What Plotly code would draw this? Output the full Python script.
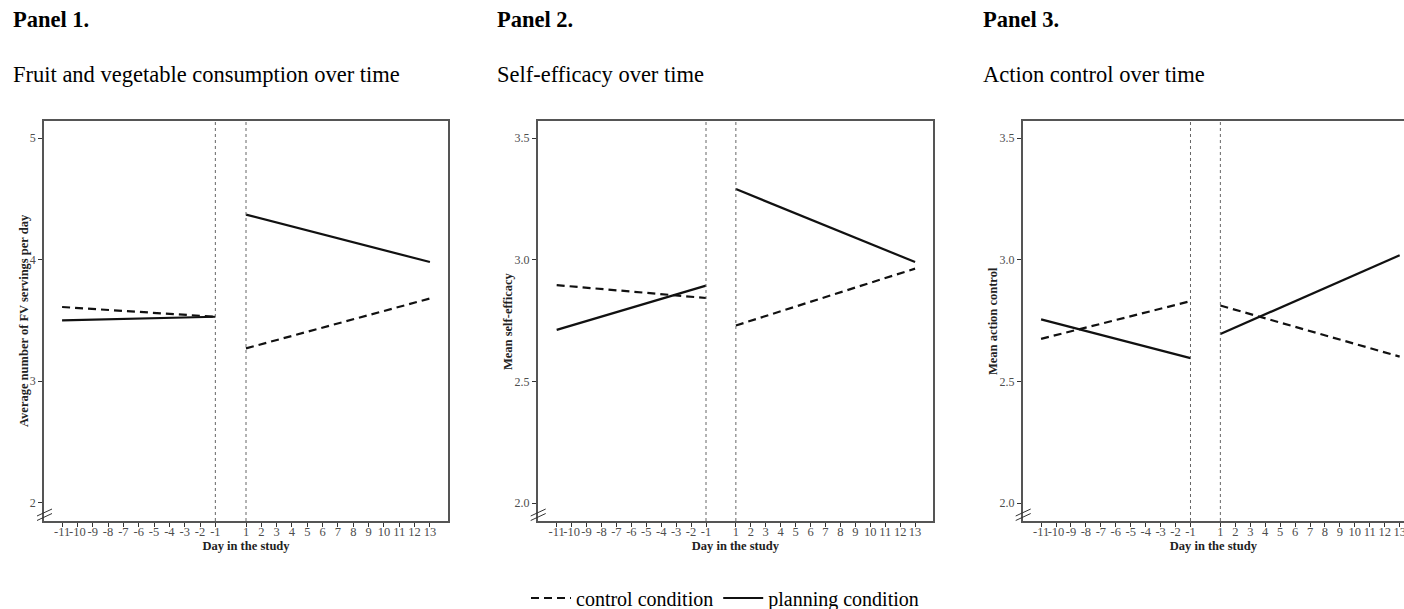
import plotly.graph_objects as go

W, H = 1404, 609

# ---- data ----
pre_days = [-11, -1]
post_days = [1, 13]
tick_days = [-11, -10, -9, -8, -7, -6, -5, -4, -3, -2, -1, 1, 2, 3, 4, 5, 6, 7, 8, 9, 10, 11, 12, 13]
tick_labels = ["-11", "-10", "-9", "-8", "-7", "-6", "-5", "-4", "-3", "-2", "-1",
               "1", "2", "3", "4", "5", "6", "7", "8", "9", "10", "11", "12", "13"]

fv_control_pre = [3.61, 3.53]
fv_control_post = [3.27, 3.68]
fv_planning_pre = [3.50, 3.53]
fv_planning_post = [4.37, 3.98]

se_control_pre = [2.896, 2.843]
se_control_post = [2.73, 2.964]
se_planning_pre = [2.712, 2.894]
se_planning_post = [3.291, 2.991]

ac_control_pre = [2.675, 2.83]
ac_control_post = [2.812, 2.602]
ac_planning_pre = [2.755, 2.596]
ac_planning_post = [2.695, 3.019]

panel_labels = ["Panel 1.", "Panel 2.", "Panel 3."]
panel_titles = ["Fruit and vegetable consumption over time",
                "Self-efficacy over time",
                "Action control over time"]
y_titles = ["Average number of FV servings per day", "Mean self-efficacy", "Mean action control"]
y_ticks = [[2, 3, 4, 5], [2.0, 2.5, 3.0, 3.5], [2.0, 2.5, 3.0, 3.5]]
y_ticktext = [["2", "3", "4", "5"], ["2.0", "2.5", "3.0", "3.5"], ["2.0", "2.5", "3.0", "3.5"]]
y_ranges = [[1.85, 5.14], [1.926, 3.571], [1.926, 3.571]]
x_ranges = [[-12.18, 14.18], [-12.27, 14.2], [-12.23, 13.29]]
legend_names = ["control condition", "planning condition"]

# ---- layout helpers (pixels -> paper) ----
def px(x):
    return x / W

def py(y):
    return 1 - y / H

plot_top, plot_bot = 121, 521
x_domains = [[44, 448], [537.7, 933], [1022.7, 1404]]
title_x = [11, 495, 981]
ytitle_x = [24, 508, 993]

FONT = "Liberation Serif"
LINE = "#111111"
FRAME = "#555555"

fig = go.Figure()

series = [
    (fv_control_pre, fv_control_post, fv_planning_pre, fv_planning_post),
    (se_control_pre, se_control_post, se_planning_pre, se_planning_post),
    (ac_control_pre, ac_control_post, ac_planning_pre, ac_planning_post),
]

for i, (cpre, cpost, ppre, ppost) in enumerate(series):
    xa = "x" if i == 0 else f"x{i+1}"
    ya = "y" if i == 0 else f"y{i+1}"
    for seg_idx, (xs, ys, name, dash) in enumerate([
        (pre_days, cpre, legend_names[0], "8px,5px"),
        (post_days, cpost, legend_names[0], "8px,5px"),
        (pre_days, ppre, legend_names[1], "solid"),
        (post_days, ppost, legend_names[1], "solid"),
    ]):
        fig.add_trace(go.Scatter(
            x=xs, y=ys, mode="lines", name=name,
            line=dict(color=LINE, width=2.2, dash=dash),
            xaxis=xa, yaxis=ya,
            legendgroup=name,
            showlegend=(i == 0 and seg_idx in (0, 2)),
            hoverinfo="skip",
        ))

layout = dict(
    width=W, height=H,
    margin=dict(l=0, r=0, t=0, b=0, autoexpand=False),
    paper_bgcolor="white", plot_bgcolor="white",
    font=dict(family=FONT, color="#000"),
    showlegend=True,
    legend=dict(orientation="h", x=px(725), xanchor="center", y=py(598), yanchor="middle",
                font=dict(family=FONT, size=20, color="#000"),
                itemwidth=40, traceorder="normal", bgcolor="rgba(0,0,0,0)"),
)

for i in range(3):
    xk = "xaxis" if i == 0 else f"xaxis{i+1}"
    yk = "yaxis" if i == 0 else f"yaxis{i+1}"
    yanchor = "y" if i == 0 else f"y{i+1}"
    xanchor = "x" if i == 0 else f"x{i+1}"
    layout[xk] = dict(
        domain=[px(x_domains[i][0]), px(x_domains[i][1])],
        range=x_ranges[i], anchor=yanchor, automargin=False,
        tickmode="array", tickvals=tick_days, ticktext=tick_labels, tickangle=0,
        ticks="outside", ticklen=4, tickwidth=1, tickcolor="#333",
        ticklabelstandoff=-6, ticklabeloverflow="allow",
        tickfont=dict(family=FONT, size=12.5, color="#4d4d4d"),
        showline=True, linecolor=FRAME, linewidth=1.5, mirror=True,
        showgrid=False, zeroline=False, fixedrange=True,
        title=dict(text="<b>Day in the study</b>", font=dict(family=FONT, size=12.5, color="#222"),
                   standoff=0),
    )
    layout[yk] = dict(
        domain=[py(plot_bot), py(plot_top)],
        range=y_ranges[i], anchor=xanchor, automargin=False,
        tickmode="array", tickvals=y_ticks[i], ticktext=y_ticktext[i],
        ticks="outside", ticklen=4, tickwidth=1, tickcolor="#333",
        tickfont=dict(family=FONT, size=12, color="#4d4d4d"),
        showline=True, linecolor=FRAME, linewidth=1.5, mirror=(i < 2),
        showgrid=False, zeroline=False, fixedrange=True,
    )

fig.update_layout(**layout)

shapes = []
annotations = []
for i in range(3):
    xr = "x" if i == 0 else f"x{i+1}"
    yr = "y domain" if i == 0 else f"y{i+1} domain"
    for xv in (-1, 1):
        shapes.append(dict(type="line", xref=xr, yref=yr, x0=xv, x1=xv, y0=0, y1=1,
                           line=dict(color="#666", width=1, dash="dot")))
    # axis-break marks on left axis
    lx = x_domains[i][0]
    for dy in (0, 4.5):
        shapes.append(dict(type="line", xref="paper", yref="paper",
                           x0=px(lx - 7), y0=py(516 + dy), x1=px(lx + 8), y1=py(509 + dy),
                           line=dict(color="#333", width=1)))
    annotations.append(dict(text=f"<b>{panel_labels[i]}</b>", xref="paper", yref="paper",
                            x=px(title_x[i]), y=py(20), xanchor="left", yanchor="middle",
                            showarrow=False, font=dict(family=FONT, size=22.5, color="#000")))
    annotations.append(dict(text=panel_titles[i], xref="paper", yref="paper",
                            x=px(title_x[i]), y=py(75), xanchor="left", yanchor="middle",
                            showarrow=False, font=dict(family=FONT, size=22.5, color="#000")))
    annotations.append(dict(text=f"<b>{y_titles[i]}</b>", xref="paper", yref="paper",
                            x=px(ytitle_x[i]), y=py((plot_top + plot_bot) / 2),
                            xanchor="center", yanchor="middle", textangle=-90,
                            showarrow=False, font=dict(family=FONT, size=12.5, color="#222")))

fig.update_layout(shapes=shapes, annotations=annotations)

fig.write_html("out.html", config={"displayModeBar": False},
               post_script="document.body.style.margin='0';document.body.style.overflow='hidden';")
